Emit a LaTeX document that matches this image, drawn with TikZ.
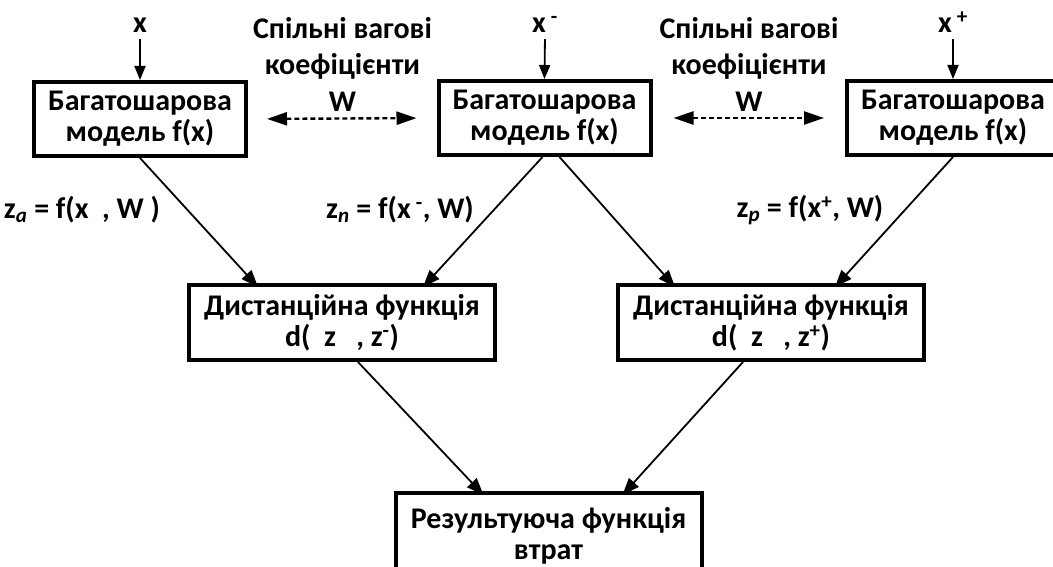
\documentclass[tikz,border=0pt]{standalone}
\usepackage{fontspec}
\setmainfont{Carlito}
\usetikzlibrary{arrows.meta}
\tikzset{
  block/.style={draw, line width=4pt, align=center, inner sep=0pt,
    font=\fontsize{30}{31}\selectfont\bfseries},
  modelbox/.style={block, minimum width=212pt, minimum height=74pt},
  distbox/.style={block, minimum width=306pt, minimum height=75pt},
  label/.style={inner sep=2pt, font=\fontsize{30}{36.5}\selectfont\bfseries, align=center},
  flow/.style={line width=1.8pt, -{Triangle[length=17pt,width=13pt]}},
  feed/.style={line width=1.8pt, -{Triangle[length=14pt,width=11pt]}},
  shared/.style={line width=2.4pt, dash pattern=on 5pt off 3pt,
    {Triangle[length=20pt,width=13pt]}-{Triangle[length=20pt,width=13pt]}}
}
\begin{document}
\begin{tikzpicture}[x=1pt,y=-1pt]
  \useasboundingbox (0,0) rectangle (1053,567);
  % boxes
  \draw
    (140,119) node[modelbox] (m1){Багатошарова\\модель f(x)}
    (544.5,118) node[modelbox] (m2){Багатошарова\\модель f(x)}
    (953,118) node[modelbox] (m3){Багатошарова\\модель f(x)}
    (342,322.5) node[distbox] (d1){Дистанційна функція\\d(\ \ z\ \ \ , z\textsuperscript{-})}
    (771,322.5) node[distbox] (d2){Дистанційна функція\\d(\ \ z\ \ \ , z\textsuperscript{+})}
    (548.5,536) node[distbox, minimum height=86pt] (loss){Результуюча функція\\втрат};
  % texts
  \draw
    (140,33) node[label, anchor=base] (xa){x}
    (545,33) node[label, anchor=base] (xn){x\,\textsuperscript{-}}
    (953,33) node[label, anchor=base] (xp){x\,\textsuperscript{+}}
    (342.5,64) node[label] (w1){Спільні вагові\\коефіцієнти\\W}
    (749,64) node[label] (w2){Спільні вагові\\коефіцієнти\\W}
    (82,210) node[label] (za){z\textsubscript{\itshape a} = f(x\ \ , W\ )}
    (400,210) node[label] (zn){z\textsubscript{\itshape n} = f(x\,\textsuperscript{-}, W)}
    (810,210) node[label] (zp){z\textsubscript{\itshape p} = f(x\textsuperscript{+}, W)};
  \begin{scope}[feed]
    \draw[shorten <=4pt] (xa.south) to (m1.north);
    \draw[shorten <=4pt] (xn.south) to (m2.north);
    \draw[shorten <=4pt] (xp.south) to (m3.north);
  \end{scope}
  \begin{scope}[shared]
    \draw[shorten <=19pt, shorten >=20pt] (m1.east) to (m2.west);
    \draw[shorten <=21pt, shorten >=21pt] (m2.east) to (m3.west);
  \end{scope}
  \begin{scope}[flow]
    \draw (m1.south) to ([xshift=-84pt, yshift=-4pt]d1.north);
    \draw ([xshift=-2pt]m2.south) to ([xshift=81pt, yshift=-4pt]d1.north);
    \draw ([xshift=15pt]m2.south) to ([xshift=-96pt, yshift=-4pt]d2.north);
    \draw (m3.south) to ([xshift=64pt, yshift=-4pt]d2.north);
    \draw ([xshift=16pt]d1.south) to ([xshift=-65pt, yshift=-4pt]loss.north);
    \draw ([xshift=-28pt]d2.south) to ([xshift=74pt, yshift=-4pt]loss.north);
  \end{scope}
\end{tikzpicture}
\end{document}
